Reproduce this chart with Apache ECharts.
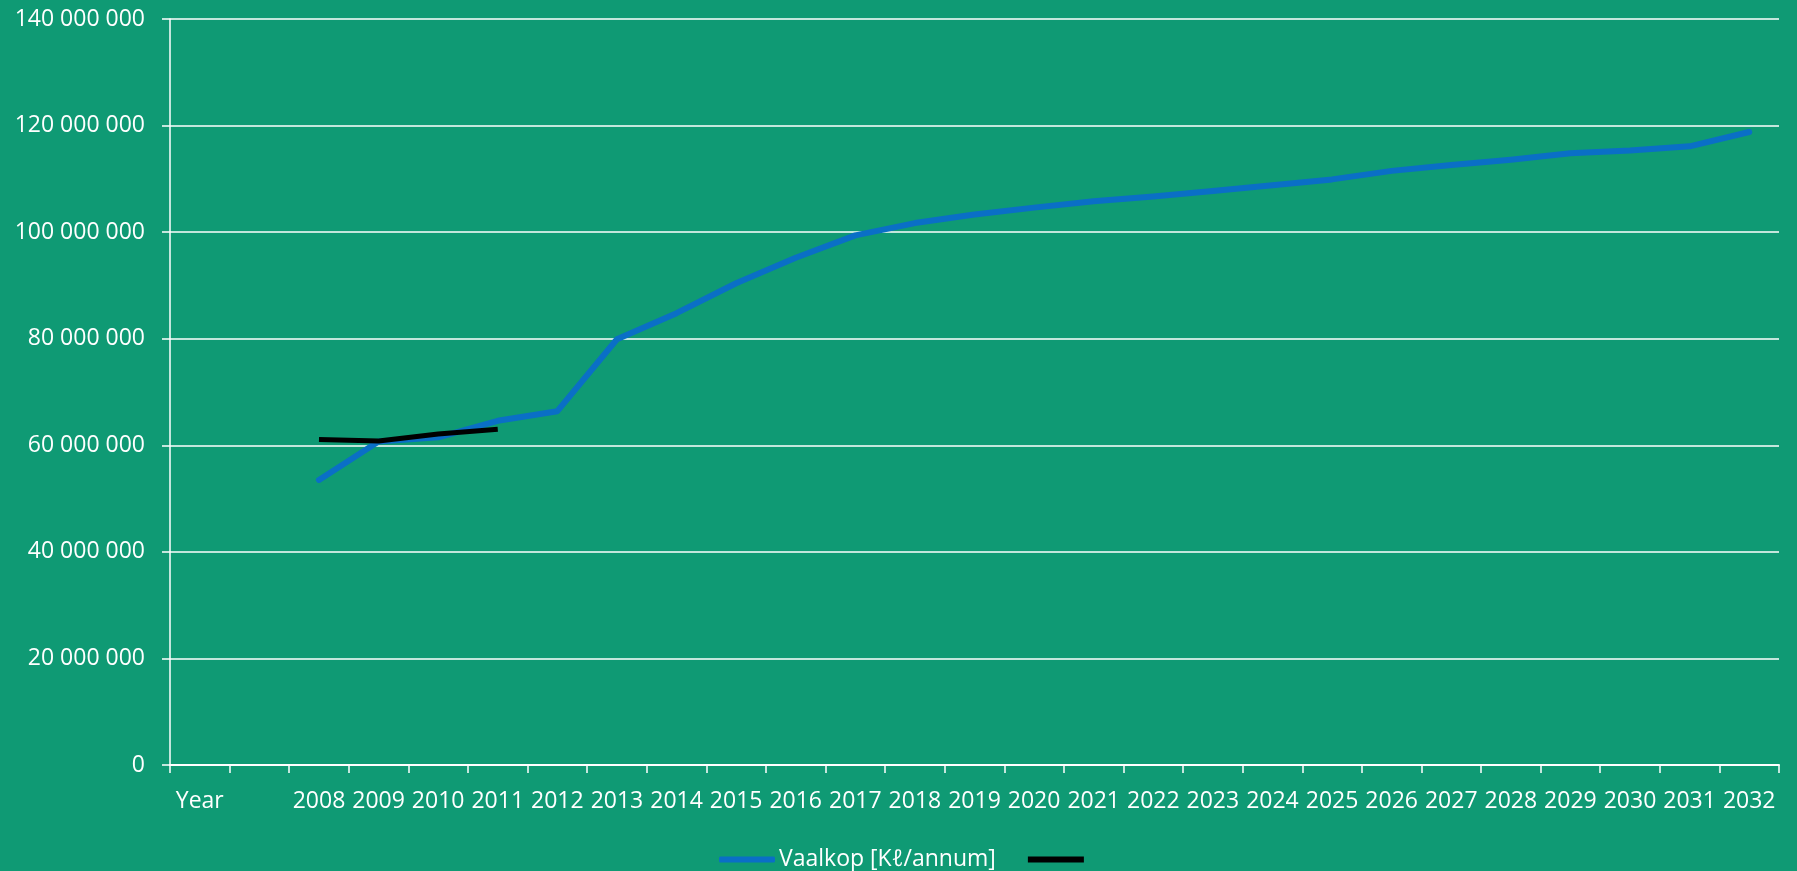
<!DOCTYPE html>
<html>
<head>
<meta charset="utf-8">
<script src="https://cdn.jsdelivr.net/npm/echarts@6/dist/echarts.min.js"></script>
<style>
	html,body{margin:0;padding:0;background:#0f9a74;}
	#main{width:1797px;height:871px;}
</style>
</head>
<body>
<div id="main"></div>
<script type="text/javascript">
// categories along the bottom (blank slot between Year and 2008)
var years = ['Year', '', '2008', '2009', '2010', '2011', '2012', '2013', '2014', '2015', '2016', '2017', '2018', '2019', '2020',
	'2021', '2022', '2023', '2024', '2025', '2026', '2027', '2028', '2029', '2030', '2031', '2032'];

// Vaalkop demand, Kl/annum
var vaalkop = [null, null, 53500000, 60700000, 61500000, 64600000, 66400000, 79900000, 84800000, 90400000, 95200000, 99400000,
	101700000, 103300000, 104600000, 105800000, 106700000, 107700000, 108800000, 109900000, 111500000, 112600000,
	113600000, 114800000, 115300000, 116100000, 118800000];

// unnamed black series (actuals)
var actual = [null, null, 61100000, 60800000, 62100000, 63000000];

var yTicks = { min: 0, max: 140000000, step: 20000000 };

var fontName = '"Open Sans", "Noto Sans", sans-serif';

function fmt(v) {
	return String(v).replace(/\B(?=(\d{3})+(?!\d))/g, ' ');
}

var myChart = echarts.init(document.getElementById('main'));
var option = {
	backgroundColor: '#0f9a74',
	animation: false,
	textStyle: { fontFamily: fontName, color: '#fff' },
	grid: { left: 170, right: 18, top: 19, bottom: 106, containLabel: false },
	legend: {
		top: 843,
		left: 714,
		itemWidth: 56,
		itemHeight: 6,
		itemGap: 32,
		textStyle: { color: '#fff', fontSize: 23, fontFamily: fontName, padding: [0, 0, 0, -1] },
		data: [
			{ name: 'Vaalkop [Kℓ/annum]', icon: 'roundRect', itemStyle: { color: '#0a6fc6' } },
			{ name: ' ', icon: 'rect', itemStyle: { color: '#000' } }
		]
	},
	xAxis: {
		type: 'category',
		data: years,
		boundaryGap: true,
		axisLine: { lineStyle: { color: '#fff', width: 2 } },
		axisTick: { show: true, interval: 0, length: 8, lineStyle: { color: '#fff', width: 1.5 } },
		axisLabel: { interval: 0, color: '#fff', fontSize: 23, margin: 25, fontFamily: fontName },
		splitLine: { show: false }
	},
	yAxis: {
		type: 'value',
		min: yTicks.min,
		max: yTicks.max,
		interval: yTicks.step,
		axisLine: { show: true, lineStyle: { color: '#fff', width: 1.5 } },
		axisTick: { show: true, length: 8, lineStyle: { color: '#fff', width: 1.5 } },
		axisLabel: { color: '#fff', fontSize: 23, margin: 25, fontFamily: fontName, formatter: fmt },
		splitLine: { show: true, lineStyle: { color: '#fff', width: 1.5 } }
	},
	series: [
		{
			name: 'Vaalkop [Kℓ/annum]',
			type: 'line',
			data: vaalkop,
			symbol: 'none',
			connectNulls: false,
			itemStyle: { color: '#0a6fc6' },
			lineStyle: { color: '#0a6fc6', width: 6, cap: 'round', join: 'round' }
		},
		{
			name: ' ',
			type: 'line',
			data: actual,
			symbol: 'none',
			itemStyle: { color: '#000' },
			lineStyle: { color: '#000', width: 5, cap: 'butt', join: 'round' }
		}
	]
};
myChart.setOption(option);
</script>
</body>
</html>
